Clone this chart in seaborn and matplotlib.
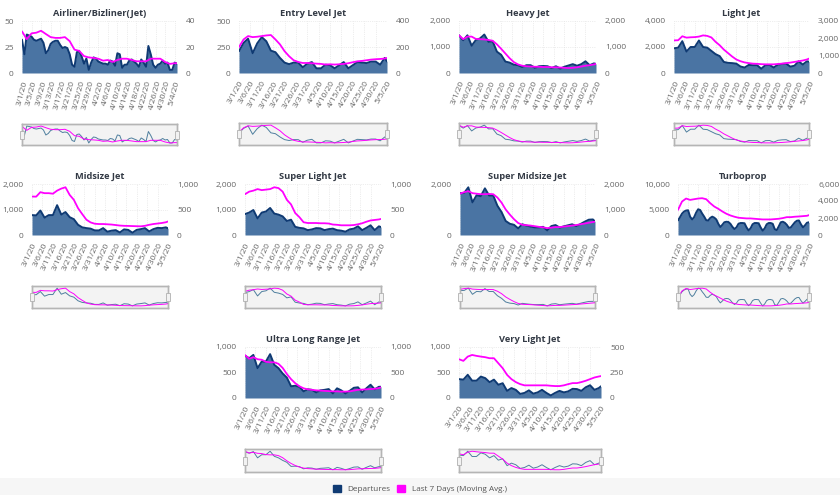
import matplotlib
matplotlib.use("Agg")
import matplotlib.pyplot as plt
from matplotlib.patches import Patch, Rectangle
import numpy as np
import pandas as pd
import seaborn as sns

sns.set_theme(style="white")
plt.rcParams['font.family'] = ['Open Sans', 'DejaVu Sans']

W, H = 840, 495
NAVY = '#0f3a73'
FILL = '#4a74a3'
MAGENTA = '#ff00ff'
TXT = '#666666'

# values read every second day from 3/1/20, plus the last day (5/5/20)
sample_days = list(range(0, 65, 2)) + [65]
# the two spikiest departure series were read day by day
daily_days = list(range(66))

titles = ['Airliner/Bizliner(Jet)', 'Entry Level Jet', 'Heavy Jet', 'Light Jet', 'Midsize Jet',
          'Super Light Jet', 'Super Midsize Jet', 'Turboprop', 'Ultra Long Range Jet', 'Very Light Jet']

airliner_dep = [32, 18, 37, 36, 35, 32, 31, 32, 33, 29, 19, 22, 28, 30, 31, 31, 27, 24, 25, 24, 18, 8, 6, 20, 21, 16, 9, 14, 3, 10, 15, 14, 11, 10, 9, 9, 8, 12, 11, 7, 19, 18, 5, 8, 8, 12, 13, 11, 9, 6, 13, 10, 6, 26, 18, 8, 5, 8, 9, 12, 9, 10, 3, 3, 10, 9]
airliner_avg = [32, 26, 30.5, 31, 32.5, 30, 27.6, 27, 27, 27.6, 24.5, 18, 17, 13, 12, 11.6, 11, 9.5, 10, 8.5, 10, 11, 11, 10, 9, 9, 9, 11, 11, 11, 8.5, 7, 7.5, 7.5]
entry_dep = [210, 290, 330, 190, 285, 345, 305, 215, 200, 145, 100, 85, 100, 100, 55, 90, 105, 45, 45, 80, 75, 45, 75, 105, 45, 75, 105, 100, 95, 110, 110, 80, 145, 110]
entry_avg = [200, 258, 284, 276, 279, 284, 289, 292, 258, 220, 168, 129, 98, 85, 77, 77, 75, 72, 70, 65, 67, 65, 67, 70, 75, 83, 90, 93, 98, 103, 106, 108, 111, 116]
heavy_dep = [1450, 1260, 1450, 1050, 1270, 1330, 1480, 1200, 1210, 820, 700, 440, 400, 320, 300, 230, 300, 300, 200, 260, 270, 260, 190, 260, 170, 240, 290, 340, 280, 340, 450, 300, 370, 350]
heavy_avg = [1450, 1300, 1400, 1400, 1310, 1300, 1290, 1270, 1240, 1100, 930, 750, 570, 420, 330, 280, 260, 250, 240, 240, 230, 230, 220, 220, 210, 200, 190, 200, 220, 250, 280, 300, 330, 350]
light_dep = [1900, 1950, 2450, 1650, 2000, 2000, 2500, 2000, 1950, 1700, 1450, 1300, 850, 780, 760, 720, 500, 420, 620, 600, 600, 330, 600, 620, 420, 640, 700, 720, 490, 560, 900, 650, 900, 870]
light_avg = [1880, 1890, 2120, 2040, 2060, 2070, 2100, 2170, 2140, 2050, 1800, 1600, 1350, 1150, 950, 780, 680, 610, 570, 540, 530, 510, 500, 500, 500, 520, 540, 570, 600, 640, 680, 720, 780, 830]
midsize_dep = [780, 770, 960, 680, 780, 780, 1170, 800, 900, 700, 620, 400, 300, 270, 250, 180, 180, 270, 130, 170, 190, 100, 220, 200, 90, 200, 230, 270, 140, 230, 280, 270, 300, 260]
midsize_avg = [754, 752, 840, 820, 820, 810, 870, 910, 936, 786, 690, 526, 410, 300, 247, 221, 215, 215, 210, 205, 195, 185, 180, 178, 175, 172, 170, 180, 200, 215, 225, 235, 250, 265]
slight_dep = [820, 880, 980, 650, 880, 920, 1060, 840, 800, 730, 550, 600, 320, 280, 260, 190, 220, 270, 260, 190, 230, 250, 190, 170, 130, 220, 250, 340, 190, 280, 380, 190, 340, 310]
slight_avg = [800, 850, 870, 900, 880, 890, 900, 936, 920, 850, 690, 600, 430, 350, 250, 235, 235, 235, 230, 230, 225, 205, 200, 190, 190, 190, 195, 210, 230, 260, 285, 295, 305, 315]
smid_dep = [1640, 1650, 1870, 1280, 1560, 1520, 1830, 1550, 1550, 1150, 900, 550, 440, 400, 260, 420, 370, 330, 300, 300, 320, 180, 350, 390, 290, 340, 380, 420, 350, 430, 520, 600, 610, 530]
smid_avg = [1620, 1680, 1720, 1640, 1620, 1600, 1600, 1610, 1600, 1470, 1270, 1000, 800, 620, 470, 400, 385, 370, 345, 320, 300, 270, 290, 310, 310, 330, 350, 370, 390, 420, 450, 480, 510, 520]
turbo_dep = [2850, 3500, 4200, 4600, 4800, 4850, 3600, 3050, 3500, 4400, 5050, 4900, 4200, 3600, 2900, 2850, 3350, 3600, 3400, 3050, 2200, 1560, 2000, 2500, 2600, 2550, 2200, 1600, 1170, 1500, 2200, 2350, 2350, 2300, 1500, 900, 1300, 2100, 2350, 2350, 2300, 1500, 850, 1300, 2100, 2350, 2350, 2200, 1150, 950, 1700, 2500, 2600, 2400, 2000, 1400, 1500, 2000, 2500, 2800, 2850, 2100, 1500, 1900, 2400, 2500]
turbo_avg = [2960, 3940, 4290, 4130, 4210, 4290, 4330, 4210, 3740, 3350, 3080, 2770, 2500, 2300, 2150, 2030, 1990, 1950, 1950, 1910, 1870, 1830, 1830, 1830, 1870, 1910, 1990, 2100, 2100, 2150, 2180, 2220, 2260, 2340]
ulr_dep = [830, 780, 845, 585, 715, 715, 860, 650, 585, 480, 400, 230, 240, 220, 130, 170, 160, 110, 150, 160, 175, 90, 190, 150, 90, 140, 200, 210, 110, 190, 260, 170, 220, 220]
ulr_avg = [840, 770, 800, 760, 750, 710, 700, 700, 670, 590, 470, 370, 290, 230, 190, 170, 160, 150, 145, 140, 135, 130, 130, 125, 125, 130, 145, 160, 165, 170, 175, 180, 195, 210]
vlight_dep = [370, 360, 455, 340, 340, 420, 390, 310, 360, 260, 290, 140, 195, 160, 80, 100, 150, 85, 110, 160, 100, 50, 100, 140, 110, 130, 180, 175, 140, 210, 250, 160, 195, 230]
vlight_avg = [380, 364, 406, 422, 413, 406, 400, 390, 390, 341, 292, 227, 185, 156, 136, 124, 124, 124, 124, 124, 124, 120, 117, 117, 124, 136, 146, 146, 156, 169, 185, 201, 211, 215]

dep_series = [airliner_dep, entry_dep, heavy_dep, light_dep, midsize_dep, slight_dep, smid_dep, turbo_dep, ulr_dep, vlight_dep]
avg_series = [airliner_avg, entry_avg, heavy_avg, light_avg, midsize_avg, slight_avg, smid_avg, turbo_avg, ulr_avg, vlight_avg]

left_ticks = [[0, 25, 50], [0, 250, 500], [0, 1000, 2000], [0, 2000, 4000], [0, 1000, 2000],
              [0, 1000, 2000], [0, 2000], [0, 5000, 10000], [0, 500, 1000], [0, 500, 1000]]
right_ticks = [[0, 20, 40], [0, 200, 400], [0, 1000, 2000], [0, 1000, 2000, 3000], [0, 500, 1000],
               [0, 500, 1000], [0, 1000, 2000], [0, 2000, 4000, 6000], [0, 500, 1000], [0, 250, 500]]

# plot area in pixels: x0, x1, top, bottom, navigator top, navigator bottom
boxes = [(22, 177, 21, 73, 124, 145), (239, 387, 21, 73, 123, 145), (459, 596, 21, 73, 123, 145), (674, 809, 21, 73, 123, 145),
         (32, 168, 184, 235, 286, 308), (245, 381, 184, 235, 286, 308), (460, 595, 184, 235, 286, 308), (678, 809, 184, 235, 286, 308),
         (245, 381, 347, 398, 449, 472), (459, 601, 347, 398, 449, 472)]
rotations = [75, 60, 68, 68, 65, 65, 68, 68, 65, 55]
tick_steps = [4, 5, 5, 5, 5, 5, 5, 5, 5, 5]

dates = pd.date_range('2020-03-01', '2020-05-05')


def px_axes(fig, x0, x1, top, bottom):
    return fig.add_axes([x0 / W, 1 - bottom / H, (x1 - x0) / W, (bottom - top) / H])


def fmt(v):
    return f"{v:,}"


def draw_panel(fig, i):
    x0, x1, top, bottom, ntop, nbot = boxes[i]
    dep, avg = dep_series[i], avg_series[i]
    dep_days = daily_days if len(dep) == 66 else sample_days

    ax = px_axes(fig, x0, x1, top, bottom)
    ax.fill_between(dep_days, dep, color=FILL, lw=0)
    sns.lineplot(x=dep_days, y=dep, ax=ax, color=NAVY, lw=1.4)
    ax.set_xlim(0, 65)
    ax.set_ylim(0, left_ticks[i][-1])
    ax.set_yticks(left_ticks[i], [fmt(t) for t in left_ticks[i]], fontsize=6.0, color=TXT)
    xt = list(range(0, 66, tick_steps[i]))
    labels = [f"{dates[d].month}/{dates[d].day}/20" for d in xt]
    ax.set_xticks(xt, labels, fontsize=6.0, color=TXT, rotation=rotations[i], ha='right', rotation_mode='anchor')
    ax.tick_params(axis='y', length=0, pad=6)
    ax.tick_params(axis='x', length=0, pad=5)
    ax.grid(True, color='#dddddd', lw=0.5, ls=':')
    ax.set_axisbelow(True)
    sns.despine(ax=ax, left=True, bottom=True)
    ax.set_xlabel('')
    ax.set_ylabel('')
    ax.set_title(titles[i], fontsize=6.7, fontweight='bold', color='#333a45', pad=3.5)

    ax2 = ax.twinx()
    sns.lineplot(x=sample_days, y=avg, ax=ax2, color=MAGENTA, lw=1.3)
    ax2.set_ylim(0, right_ticks[i][-1])
    ax2.set_yticks(right_ticks[i], [fmt(t) for t in right_ticks[i]], fontsize=6.0, color=TXT)
    ax2.tick_params(axis='y', length=0, pad=6.5)
    ax2.set_ylabel('')
    sns.despine(ax=ax2, left=True, bottom=True, right=True)

    # navigator below the chart
    nav = px_axes(fig, x0, x1, ntop, nbot)
    nav.set_facecolor('#f3f3f3')
    sns.lineplot(x=dep_days, y=dep, ax=nav, color='#4f7f9e', lw=0.7)
    nav.set_xlim(0, 65)
    pad = (max(dep) - min(dep)) * 0.12
    nav.set_ylim(min(dep) - pad, max(dep) + pad)
    nav2 = nav.twinx()
    sns.lineplot(x=sample_days, y=avg, ax=nav2, color=MAGENTA, lw=0.7)
    pad = (max(avg) - min(avg)) * 0.12
    nav2.set_ylim(min(avg) - pad, max(avg) + pad)
    for a in (nav, nav2):
        a.set_xticks([])
        a.set_yticks([])
        a.set_xlabel('')
        a.set_ylabel('')
        for s in a.spines.values():
            s.set_color('#b5b5b5')
            s.set_linewidth(1.0)
    # drag handles
    ymid = (ntop + nbot) / 2
    for xh in (x0, x1):
        fig.add_artist(Rectangle(((xh - 2) / W, 1 - (ymid + 4) / H), 4 / W, 8 / H, transform=fig.transFigure,
                                 facecolor='#f2f2f2', edgecolor='#b0b0b0', lw=0.6, zorder=10))


fig = plt.figure(figsize=(W / 100, H / 100), dpi=100, facecolor='white')

# grey legend strip along the bottom
fig.add_artist(Rectangle((0, 0), 1, 17 / H, transform=fig.transFigure, facecolor='#f6f6f6', edgecolor='none', zorder=0))

for i in range(len(titles)):
    draw_panel(fig, i)

handles = [Patch(facecolor=NAVY, edgecolor=NAVY, label='Departures'),
           Patch(facecolor=MAGENTA, edgecolor=MAGENTA, label='Last 7 Days (Moving Avg.)')]
fig.legend(handles=handles, loc='center', bbox_to_anchor=(420 / W, 6 / H), ncol=2, frameon=False,
           fontsize=5.9, labelcolor='#555555', handlelength=1.0, handleheight=1.0,
           handletextpad=0.8, columnspacing=0.8, borderpad=0)

fig.savefig('out.png', dpi=100, facecolor='white')
